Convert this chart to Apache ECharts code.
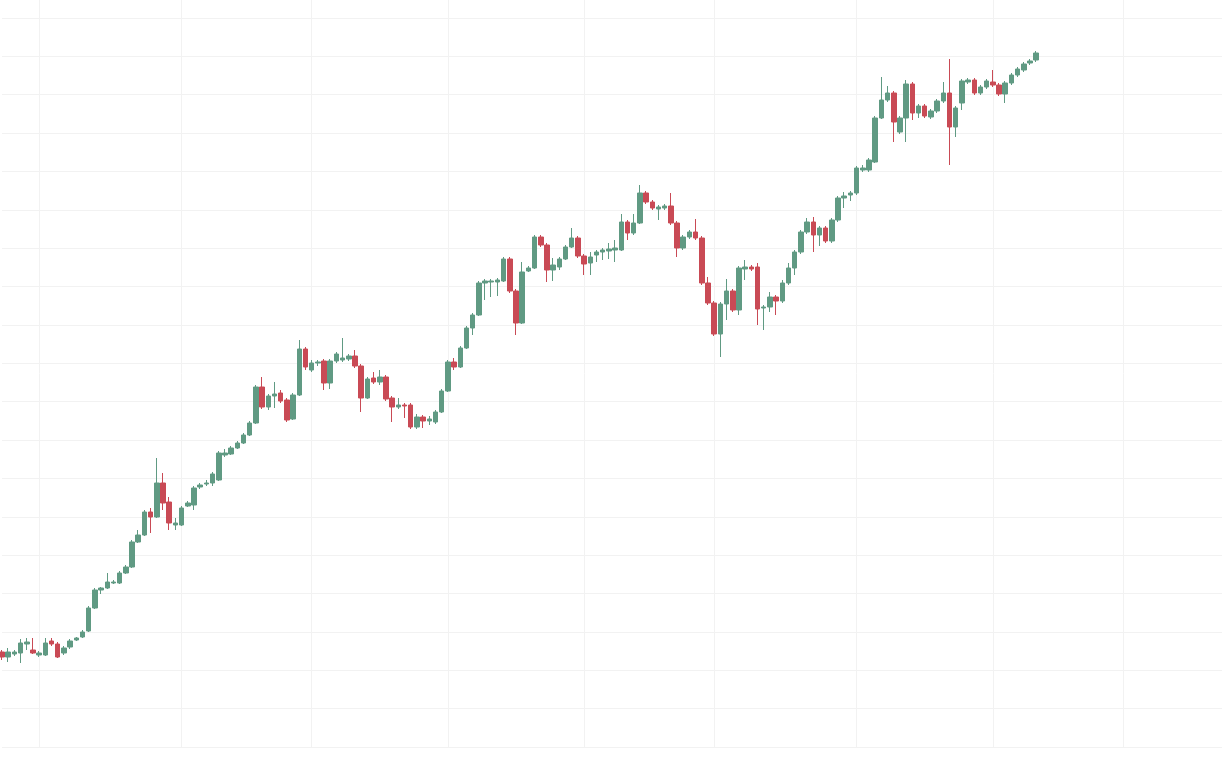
<!DOCTYPE html>
<html>
<head>
<meta charset="utf-8">
<script src="https://cdn.jsdelivr.net/npm/echarts@6/dist/echarts.min.js"></script>
<style>
html,body{margin:0;padding:0;background:#ffffff;}
#chart{width:1222px;height:758px;}
</style>
</head>
<body>
<div id="chart"></div>
<script>
// session labels (198 sessions on the axis, 168 traded)
const sessions = Array.from({length: 198}, (_, i) => 'S' + (i + 1));
// sessions where a period starts (vertical grid lines)
const periodStarts = [6, 29, 50, 72, 94, 115, 138, 160, 181];

const opens = [95,90,93,94,103,97,92,92,106,103,
94,100,107,110,116,139,157,159,164,164,
174,180,205,212,235,230,264,245,222,222,
241,242,260,263,264,267,292,293,299,304,
312,324,360,340,351,354,347,328,352,398,
377,384,386,364,386,387,388,391,381,349,
369,365,370,349,340,342,342,320,330,326,
325,335,356,385,380,399,419,432,464,465,
465,466,488,456,424,476,479,510,502,477,
480,488,500,509,491,484,492,495,496,497,
497,525,514,524,554,545,538,539,541,524,
499,510,515,509,464,444,413,443,456,437,
478,480,480,439,440,450,446,464,479,495,
515,525,512,519,506,527,549,552,554,577,
577,585,629,647,654,615,629,663,634,641,
630,636,646,654,620,644,665,667,654,660,
665,662,653,664,672,677,684,687];

const closes = [90,95,95,104,105,94,94,104,103,90,
99,106,109,115,139,157,159,165,165,174,
180,205,212,235,230,264,244,224,224,239,
244,259,262,264,273,294,294,299,304,312,
324,360,340,351,353,346,327,352,398,380,
384,385,364,386,393,389,391,381,349,368,
365,370,348,340,342,341,320,330,326,328,
335,356,385,380,399,419,432,464,466,466,
467,488,456,424,475,479,510,502,477,482,
488,500,509,491,483,490,495,497,498,499,
525,514,524,554,545,539,540,541,524,499,
510,515,509,464,444,413,443,456,437,479,
480,478,438,440,450,446,464,479,495,515,
525,512,519,506,527,549,551,554,579,579,
587,629,647,654,625,629,663,634,641,631,
636,646,654,620,639,666,667,654,660,666,
662,653,664,672,678,683,686,694];

const lows = [87,85,91,84,97,93,90,91,101,89,
92,98,106,109,115,138,153,158,163,163,
173,179,204,211,214,229,237,217,217,221,
240,237,258,261,261,266,290,292,298,303,
311,323,338,337,339,344,325,327,351,377,
375,381,357,358,384,385,386,379,335,348,
363,362,346,325,338,329,318,318,319,322,
323,334,355,377,379,398,412,431,447,450,
451,465,454,412,423,475,478,500,465,466,
477,487,499,489,472,472,485,487,488,485,
496,507,512,523,543,537,527,537,522,490,
497,508,507,462,442,411,390,427,435,432,
467,476,422,417,435,432,444,462,472,493,
513,495,501,504,504,525,539,546,552,575,
575,584,628,645,605,613,605,627,629,629,
628,634,644,582,610,637,663,652,652,658,
660,651,644,662,670,675,682,685];

const highs = [97,99,97,108,109,109,96,109,109,105,
101,108,110,117,141,159,160,174,167,176,
182,207,217,237,239,289,274,250,229,241,
246,261,264,267,275,296,298,301,306,314,
326,362,370,353,365,357,349,354,407,400,
387,387,388,388,395,409,393,397,383,370,
375,377,372,351,349,344,344,333,332,331,
337,358,387,389,401,421,434,466,468,468,
469,490,490,458,485,481,512,512,504,489,
490,502,519,511,493,495,497,499,504,507,
533,527,533,562,556,547,542,543,554,526,
512,517,528,511,470,446,445,468,458,481,
487,482,484,442,455,452,467,484,497,517,
529,530,521,521,529,551,555,556,581,582,
589,631,670,661,656,631,667,665,643,643,
638,648,665,688,641,668,669,669,662,668,
677,664,666,674,680,685,688,696];

const ohlc = opens.map((o, i) => [o, closes[i], lows[i], highs[i]]);

const upColor = '#609a83';
const downColor = '#c94a55';
const gridColor = '#f2f2f2';

const chart = echarts.init(document.getElementById('chart'), null, {renderer: 'canvas'});
chart.setOption({
  animation: false,
  backgroundColor: '#ffffff',
  grid: {left: 2, right: 0, top: 0, bottom: 11},
  xAxis: {
    type: 'category',
    data: sessions,
    boundaryGap: false,
    axisLine: {show: false},
    axisTick: {show: false},
    axisLabel: {show: false},
    splitLine: {
      show: true,
      interval: function (idx) { return periodStarts.indexOf(idx) >= 0; },
      lineStyle: {color: gridColor, width: 1}
    }
  },
  yAxis: {
    type: 'value',
    min: 0,
    max: 747,
    interval: 729 / 19,
    axisLine: {show: false},
    axisTick: {show: false},
    axisLabel: {show: false},
    splitLine: {show: true, showMaxLine: false, lineStyle: {color: gridColor, width: 1}}
  },
  series: [{
    type: 'candlestick',
    data: ohlc,
    barWidth: 5,
    clip: false,
    itemStyle: {
      color: upColor,
      color0: downColor,
      borderColor: upColor,
      borderColor0: downColor,
      borderWidth: 1
    }
  }]
});
</script>
</body>
</html>
